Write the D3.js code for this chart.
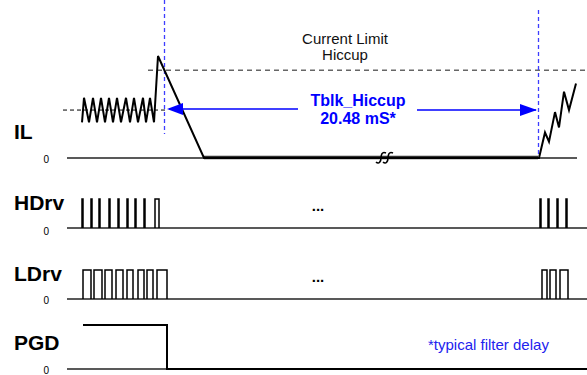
<!DOCTYPE html>
<html>
<head>
<meta charset="utf-8">
<script src="https://cdn.jsdelivr.net/npm/d3@7"></script>
<style>
  body { margin: 0; background: #fff; }
  svg { display: block; font-family: "Liberation Sans", Arial, sans-serif; }
</style>
</head>
<body>
<script>
// Timing diagram: current limit hiccup

// time in arbitrary units, IL in % of the peak
const ilTime  = [15, 17, 22, 26, 30, 34, 38, 42, 46, 50, 54, 59, 63, 67, 71, 76, 79, 83, 87, 91, 137,
                 471, 472, 478, 482, 488, 492, 497, 502, 509];
const ilValue = [35, 59, 35, 59, 35, 59, 35, 59, 35, 59, 35, 59, 35, 59, 35, 59, 35, 59, 35, 100, 0,
                 0, 0, 25, 16, 45, 30, 65, 47, 73];
const hiccupSpan = [137, 471];
const limitLevel = 86;
const avgLevel = 47;
const markerTimes = [97, 471];

const hdrvPulses = [[15, 16], [24, 25], [32, 33], [42, 43], [51, 52], [60, 61], [68, 69], [77, 78], [88, 92],
                    [473, 474], [481, 482], [490, 491], [499, 500]];
const ldrvPulses = [[16, 24], [27, 35], [38, 45], [49, 56], [60, 66], [71, 77], [80, 86], [90, 100],
                    [475, 480], [483, 489], [493, 501]];
const pgdTime  = [16, 100, 100, 520];
const pgdValue = [1, 1, 0, 0];

const signalNames = ["IL", "HDrv", "LDrv", "PGD"];
const tickLabels = [0];
const hiccupLabel = ["Tblk_Hiccup", "20.48 mS*"];
const limitLabel = ["Current Limit", "Hiccup"];
const noteLabel = "*typical filter delay";

const width = 587;
const height = 375;
const svg = d3.select("body")
   .append("svg")
   .attr("width", width)
   .attr("height", height);

const x = d3.scaleLinear().domain([0, 520]).range([67, 587]);
const yIL = d3.scaleLinear().domain([0, 100]).range([158, 56]);
const yH = d3.scaleLinear().domain([0, 1]).range([228, 199]);
const yL = d3.scaleLinear().domain([0, 1]).range([299, 270]);
const yP = d3.scaleLinear().domain([0, 1]).range([369, 325]);

const line = d3.line();

// row labels and "0" ticks
const rows = [
   { y: yIL, label: signalNames[0], ly: 139, end: 510, dy: 1 },
   { y: yH, label: signalNames[1], ly: 210, end: 520, dy: 3 },
   { y: yL, label: signalNames[2], ly: 281, end: 520, dy: 1 },
   { y: yP, label: signalNames[3], ly: 350, end: 520, dy: 1 }
];

rows.forEach(r => {
   svg.append("text")
      .attr("x", 14)
      .attr("y", r.ly)
      .attr("font-size", 21)
      .attr("font-weight", "bold")
      .text(r.label);

   const ax = svg.append("g")
      .attr("transform", `translate(52,${r.dy})`)
      .call(d3.axisLeft(r.y).tickValues(tickLabels).tickFormat(d3.format("d")).tickSize(0).tickPadding(3));
   ax.select(".domain").remove();
   ax.selectAll("text").attr("font-size", 10).attr("font-family", "Liberation Sans, Arial, sans-serif");

   svg.append("line")
      .attr("x1", x(0)).attr("x2", x(r.end))
      .attr("y1", r.y(0)).attr("y2", r.y(0))
      .attr("stroke", "#222")
      .attr("stroke-width", 1.5);
});

// reference levels
svg.append("line")
   .attr("x1", x(81)).attr("x2", x(520))
   .attr("y1", yIL(limitLevel)).attr("y2", yIL(limitLevel))
   .attr("stroke", "#666").attr("stroke-width", 1.5)
   .attr("stroke-dasharray", "5,4");

svg.append("line")
   .attr("x1", x(-4)).attr("x2", x(98))
   .attr("y1", yIL(avgLevel)).attr("y2", yIL(avgLevel))
   .attr("stroke", "#000").attr("stroke-width", 1)
   .attr("stroke-dasharray", "4,3");

// blue markers
svg.append("line")
   .attr("x1", x(markerTimes[0]) + 0.5).attr("x2", x(markerTimes[0]) + 0.5)
   .attr("y1", 0).attr("y2", 134)
   .attr("stroke", "#3d3dff").attr("stroke-width", 1.3)
   .attr("stroke-dasharray", "4,3");
svg.append("line")
   .attr("x1", x(markerTimes[1]) + 0.5).attr("x2", x(markerTimes[1]) + 0.5)
   .attr("y1", 10).attr("y2", yIL(0))
   .attr("stroke", "#3d3dff").attr("stroke-width", 1.3)
   .attr("stroke-dasharray", "4,3");

// hiccup off-time (thick)
svg.append("line")
   .attr("x1", x(hiccupSpan[0])).attr("x2", x(hiccupSpan[1]))
   .attr("y1", yIL(0) - 0.5).attr("y2", yIL(0) - 0.5)
   .attr("stroke", "#333").attr("stroke-width", 3.5);

// break mark
const bx = x(318), by = yIL(0);
[-4, 3].forEach(dx => {
   svg.append("path")
      .attr("d", `M${bx + dx - 5},${by + 4} C${bx + dx - 2},${by + 7} ${bx + dx},${by + 3} ${bx + dx},${by} C${bx + dx},${by - 3} ${bx + dx + 1},${by - 7} ${bx + dx + 5},${by - 5}`)
      .attr("fill", "none")
      .attr("stroke", "#000")
      .attr("stroke-width", 1.6);
});

// IL waveform
svg.append("path")
   .attr("d", line(ilTime.map((t, i) => [x(t), yIL(ilValue[i])])))
   .attr("fill", "none")
   .attr("stroke", "#000")
   .attr("stroke-width", 2)
   .attr("stroke-linejoin", "miter");

// Tblk arrow
const arrowY = 109;
svg.append("line")
   .attr("x1", x(markerTimes[0]) + 5).attr("x2", x(231))
   .attr("y1", arrowY).attr("y2", arrowY)
   .attr("stroke", "#0000ff").attr("stroke-width", 1.3);
svg.append("line")
   .attr("x1", x(350)).attr("x2", x(markerTimes[1]) - 2)
   .attr("y1", arrowY + 1).attr("y2", arrowY + 1)
   .attr("stroke", "#0000ff").attr("stroke-width", 1.3);
svg.append("path")
   .attr("d", `M${x(markerTimes[0]) + 3},${arrowY} l16,-6 l0,12 z`)
   .attr("fill", "#0000ff");
svg.append("path")
   .attr("d", `M${x(markerTimes[1]) - 1},${arrowY + 1} l-17,-6 l0,12 z`)
   .attr("fill", "#0000ff");

svg.selectAll(".blk")
   .data(hiccupLabel)
   .enter()
   .append("text")
   .attr("x", 358)
   .attr("y", (d, i) => 106 + i * 18)
   .attr("text-anchor", "middle")
   .attr("font-size", 16)
   .attr("font-weight", "bold")
   .attr("fill", "#0000ff")
   .text(d => d);

svg.selectAll(".lim")
   .data(limitLabel)
   .enter()
   .append("text")
   .attr("x", 345)
   .attr("y", (d, i) => 44 + i * 16)
   .attr("text-anchor", "middle")
   .attr("font-size", 15)
   .attr("fill", "#111")
   .text(d => d);

// digital pulses
function pulsePath(pulses, y) {
   return pulses.map(p => line([[x(p[0]), y(0)], [x(p[0]), y(1)], [x(p[1]), y(1)], [x(p[1]), y(0)]])).join("");
}

svg.append("path")
   .attr("d", pulsePath(hdrvPulses, yH))
   .attr("fill", "none").attr("stroke", "#000").attr("stroke-width", 1.5);

svg.append("path")
   .attr("d", pulsePath(ldrvPulses, yL))
   .attr("fill", "none").attr("stroke", "#000").attr("stroke-width", 1.5);

svg.append("path")
   .attr("d", line(pgdTime.map((t, i) => [x(t), yP(pgdValue[i])])))
   .attr("fill", "none").attr("stroke", "#000").attr("stroke-width", 2);

// ellipsis
[yH, yL].forEach(y => {
   svg.append("text")
      .attr("x", x(251))
      .attr("y", y(0) - 17)
      .attr("text-anchor", "middle")
      .attr("font-size", 15)
      .attr("font-weight", "bold")
      .text("...");
});

svg.append("text")
   .attr("x", 428)
   .attr("y", 350)
   .attr("font-size", 15)
   .attr("fill", "#2222ee")
   .text(noteLabel);
</script>
</body>
</html>
